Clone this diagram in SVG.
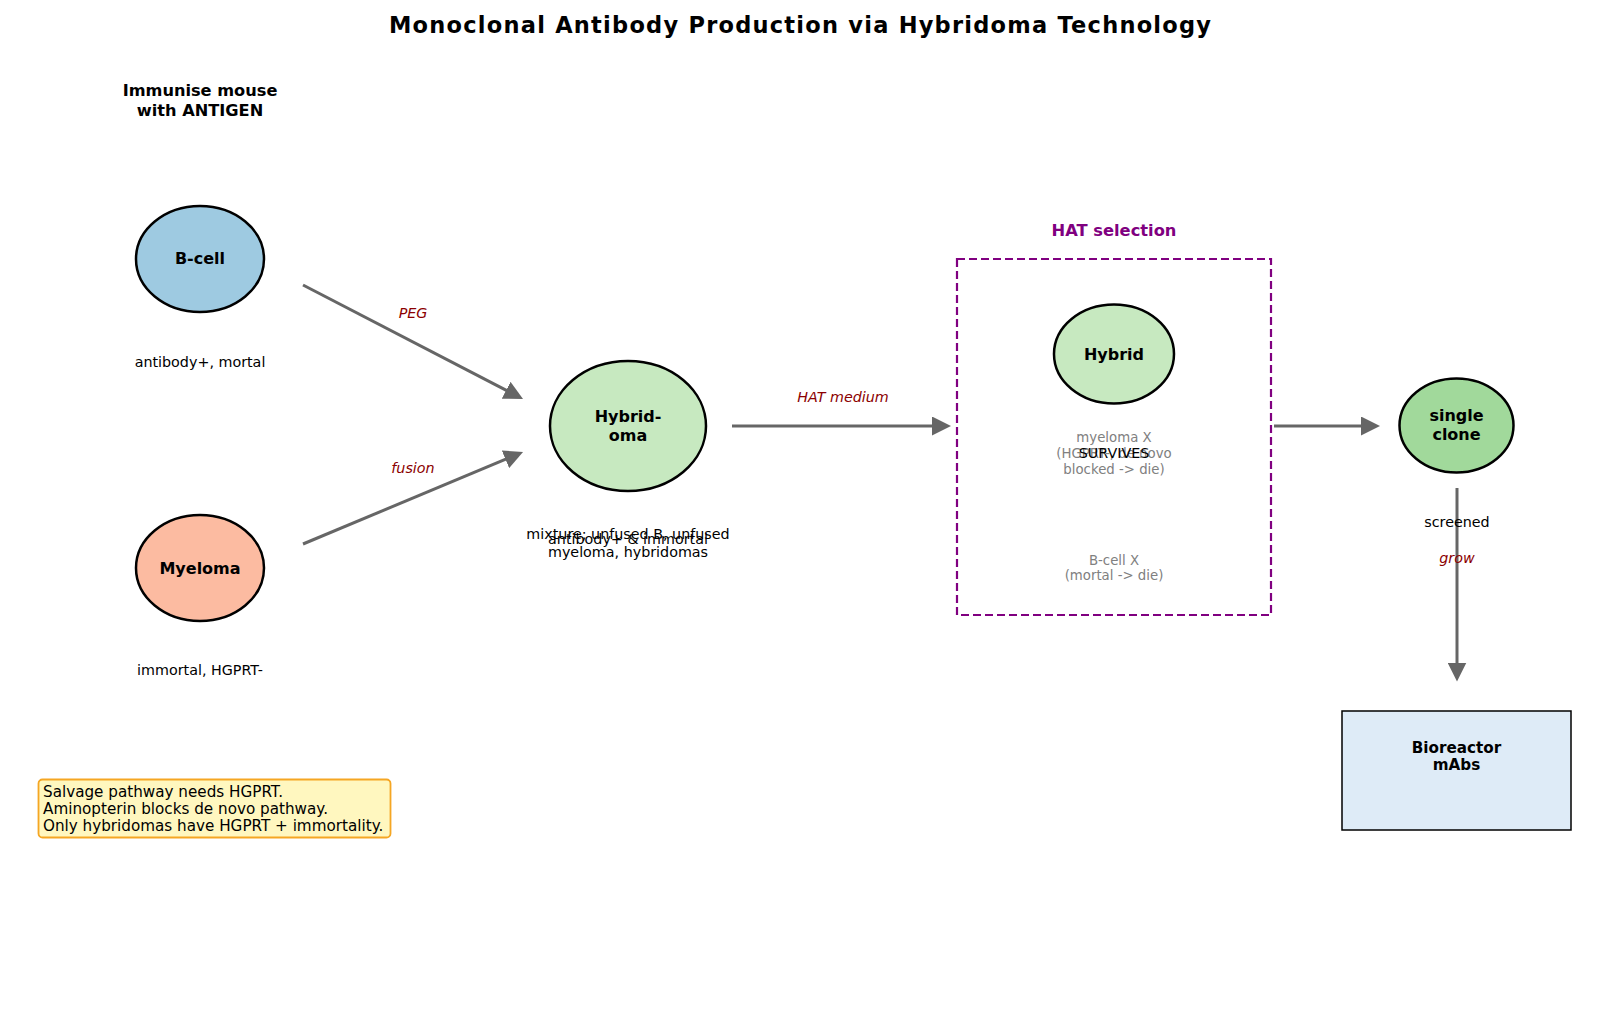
<svg xmlns="http://www.w3.org/2000/svg" width="1600" height="1011" viewBox="0 0 1600 1011">
<style>
text{font-family:"DejaVu Sans","Liberation Sans",sans-serif;text-anchor:middle;}
.title{font-size:22.5px;font-weight:bold;fill:#000;}
.nl{font-size:16px;font-weight:bold;fill:#000;}
.hd{font-size:16.2px;font-weight:bold;fill:#000;}
.sub{font-size:14.3px;fill:#000;}
.el{font-size:14.3px;font-style:italic;fill:#8b0000;}
.gray{font-size:13.3px;fill:#808080;}
.node{stroke:#000;stroke-width:2.5;}
.conn{stroke:#666;stroke-width:3;fill:none;}
.note{font-size:15.2px;fill:#000;text-anchor:start;}
</style>
<defs>
<marker id="ah" markerUnits="userSpaceOnUse" markerWidth="20" markerHeight="19" refX="13" refY="9.5" orient="auto">
<path d="M0,0 L19,9.5 L0,19 z" fill="#666"/>
</marker>
</defs>
<rect width="1600" height="1011" fill="#fff"/>
<text class="title" x="800" y="33" textLength="822" lengthAdjust="spacing">Monoclonal Antibody Production via Hybridoma Technology</text>

<g id="connectors">
<line class="conn" x1="303" y1="285" x2="517.7" y2="396.2" marker-end="url(#ah)"/>
<line class="conn" x1="303" y1="544" x2="517.5" y2="454.3" marker-end="url(#ah)"/>
<line class="conn" x1="732" y1="426" x2="945" y2="426" marker-end="url(#ah)"/>
<line class="conn" x1="1274" y1="426" x2="1374" y2="426" marker-end="url(#ah)"/>
<line class="conn" x1="1457" y1="488" x2="1457" y2="675.5" marker-end="url(#ah)"/>
<text class="el" x="413" y="318">PEG</text>
<text class="el" x="413" y="473">fusion</text>
<text class="el" x="843" y="402">HAT medium</text>
<text class="el" x="1457" y="563">grow</text>
</g>

<g id="immunise">
<text class="hd" x="200" y="96">Immunise mouse</text>
<text class="hd" x="200" y="116">with ANTIGEN</text>
</g>

<g id="bcell">
<ellipse class="node" cx="200" cy="259" rx="64" ry="53" fill="#9ecae1"/>
<text class="nl" x="200" y="264">B-cell</text>
<text class="sub" x="200" y="367">antibody+, mortal</text>
</g>

<g id="myeloma">
<ellipse class="node" cx="200" cy="568" rx="64" ry="53" fill="#fcbba1"/>
<text class="nl" x="200" y="574">Myeloma</text>
<text class="sub" x="200" y="675">immortal, HGPRT-</text>
</g>

<g id="hybridoma">
<ellipse class="node" cx="628" cy="426" rx="78" ry="65" fill="#c7e9c0"/>
<text class="nl" x="628" y="422">Hybrid-</text>
<text class="nl" x="628" y="441">oma</text>
<text class="sub" x="628" y="539">mixture; unfused B, unfused</text>
<text class="sub" x="628" y="557">myeloma, hybridomas</text>
<text class="sub" x="628" y="544">antibody+ &amp; immortal</text>
</g>

<g id="hat">
<text x="1114" y="236" style="font-size:16.3px;font-weight:bold;fill:#800080">HAT selection</text>
<rect x="957" y="259" width="314" height="356" fill="none" stroke="#800080" stroke-width="2.2" stroke-dasharray="8,4"/>
</g>

<g id="hybrid">
<ellipse class="node" cx="1114" cy="354" rx="60" ry="49.5" fill="#c7e9c0"/>
<text class="nl" x="1114" y="360">Hybrid</text>
<text class="gray" x="1114" y="441.5">myeloma X</text>
<text class="gray" x="1114" y="457.5">(HGPRT-, de novo</text>
<text class="gray" x="1114" y="473.5">blocked -&gt; die)</text>
<text class="sub" x="1114" y="458">SURVIVES</text>
<text class="gray" x="1114" y="564.5">B-cell X</text>
<text class="gray" x="1114" y="579.5">(mortal -&gt; die)</text>
</g>

<g id="clone">
<ellipse class="node" cx="1456.5" cy="425.5" rx="57" ry="47" fill="#a1d99b"/>
<text class="nl" x="1456.5" y="421">single</text>
<text class="nl" x="1456.5" y="440">clone</text>
<text class="sub" x="1457" y="527">screened</text>
</g>

<g id="bioreactor">
<rect x="1342" y="711" width="229" height="119" fill="#deebf7" stroke="#000" stroke-width="1.5"/>
<text x="1456.5" y="753" style="font-size:15.2px;font-weight:bold">Bioreactor</text>
<text x="1456.5" y="770" style="font-size:15.2px;font-weight:bold">mAbs</text>
</g>

<g id="note">
<rect x="38.5" y="779.5" width="352" height="58" rx="4" fill="#fff7bf" stroke="#f5a623" stroke-width="1.8"/>
<text class="note" x="43" y="797">Salvage pathway needs HGPRT.</text>
<text class="note" x="43" y="814">Aminopterin blocks de novo pathway.</text>
<text class="note" x="43" y="831">Only hybridomas have HGPRT + immortality.</text>
</g>
</svg>
